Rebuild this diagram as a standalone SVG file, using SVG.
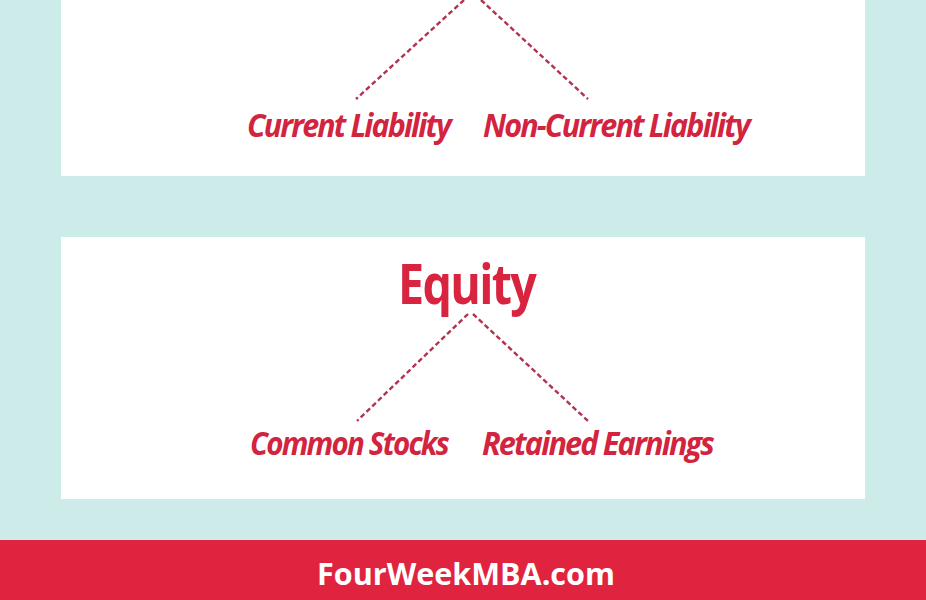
<svg xmlns="http://www.w3.org/2000/svg" width="926" height="600" viewBox="0 0 926 600">
<style>
.box{fill:#ffffff}
.lbl{font-family:"Open Sans","Liberation Sans",sans-serif;font-weight:bold;font-style:italic;fill:#d2233f;font-size:33px;letter-spacing:-2px}
.title{font-family:"Open Sans","Liberation Sans",sans-serif;font-weight:bold;fill:#d8243f;font-size:55px;letter-spacing:-2px}
.link{stroke:#b3334f;stroke-width:2.4;stroke-dasharray:5 3;fill:none}
.foot{font-family:"Open Sans","Liberation Sans",sans-serif;font-weight:bold;fill:#ffffff;font-size:31px}
</style>
<rect x="0" y="0" width="926" height="600" fill="#cdebe8"/>
<g id="liabilities-panel">
<rect class="box" x="61" y="0" width="804" height="176"/>
</g>
<g id="equity-panel">
<rect class="box" x="61" y="237" width="804" height="262"/>
</g>
<g id="connectors">
<line class="link" x1="464" y1="0" x2="356" y2="99"/>
<line class="link" x1="481" y1="0" x2="588" y2="99"/>
<line class="link" x1="468" y1="314" x2="357" y2="421"/>
<line class="link" x1="473" y1="314" x2="588" y2="421"/>
</g>
<g id="current-liability">
<text class="lbl" x="247" y="137" textLength="203" lengthAdjust="spacingAndGlyphs">Current Liability</text>
</g>
<g id="non-current-liability">
<text class="lbl" x="483" y="137" textLength="266" lengthAdjust="spacingAndGlyphs">Non-Current Liability</text>
</g>
<g id="equity">
<text class="title" x="398" y="304" textLength="137" lengthAdjust="spacingAndGlyphs">Equity</text>
</g>
<g id="common-stocks">
<text class="lbl" x="250" y="455" textLength="198" lengthAdjust="spacingAndGlyphs">Common Stocks</text>
</g>
<g id="retained-earnings">
<text class="lbl" x="482" y="455" textLength="231" lengthAdjust="spacingAndGlyphs">Retained Earnings</text>
</g>
<g id="footer">
<rect x="0" y="540" width="926" height="60" fill="#e0233f"/>
<text class="foot" x="317" y="585" textLength="298" lengthAdjust="spacingAndGlyphs">FourWeekMBA.com</text>
</g>
</svg>
